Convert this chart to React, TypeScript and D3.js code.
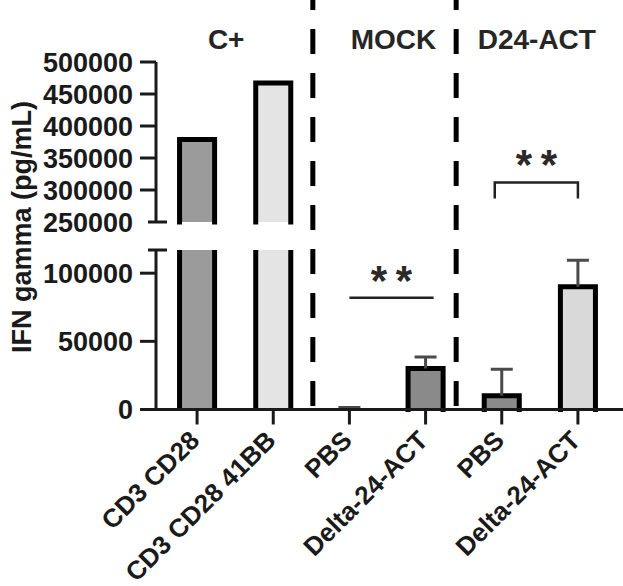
import React, { useEffect, useRef } from 'react';
import * as d3 from 'd3';

const categories = ['CD3 CD28', 'CD3 CD28 41BB', 'PBS', 'Delta-24-ACT', 'PBS', 'Delta-24-ACT'];
const means = [379000, 467000, 0, 30000, 10000, 90000];
const errors = [0, 0, 1500, 8500, 19500, 19500];
const groups = ['C+', 'MOCK', 'D24-ACT'];
const upperTicks = [250000, 300000, 350000, 400000, 450000, 500000];
const lowerTicks = [0, 50000, 100000];
const fills = ['#9b9b9b', '#e4e4e4', '#8a8a8a', '#8a8a8a', '#8a8a8a', '#d9d9d9'];

const FONT = '"Liberation Sans", Arial, sans-serif';

const App: React.FC = () => {
  const ref = useRef<SVGSVGElement | null>(null);

  useEffect(() => {
    const svg = d3.select(ref.current);
    svg.selectAll('*').remove();

    const axisX = 156;
    const x = d3.scaleBand<number>()
      .domain(d3.range(categories.length))
      .range([159, 616])
      .paddingInner(0.54)
      .paddingOuter(0.27);
    const bw = x.bandwidth();
    const cx = (i: number) => x(i)! + bw / 2;

    // broken y axis: lower and upper segments
    const yLow = d3.scaleLinear().domain([0, 117000]).range([409.5, 250]);
    const yUp = d3.scaleLinear().domain([250000, 500000]).range([222, 62]);
    const lowMax = yLow.domain()[1];
    const upMin = yUp.domain()[0];

    const ink = '#1a1a1a';

    // dashed group dividers
    const dividers = [x.step() / 2 + cx(1) + 1.5, x.step() / 2 + cx(3) - 7.5];
    dividers.forEach(dx => {
      svg.append('line')
        .attr('x1', dx).attr('x2', dx)
        .attr('y1', 0).attr('y2', yLow(0))
        .attr('stroke', '#000')
        .attr('stroke-width', 5)
        .attr('stroke-dasharray', '25,19')
        .attr('stroke-dashoffset', 15);
    });

    // bars
    const bars = svg.append('g');
    const segment = (i: number, yTop: number, yBot: number, top: boolean) => {
      const x0 = x(i)!;
      bars.append('rect')
        .attr('x', x0).attr('y', yTop)
        .attr('width', bw).attr('height', Math.max(0, yBot - yTop))
        .attr('fill', fills[i]);
      const p = top
        ? `M${x0},${yBot}V${yTop}H${x0 + bw}V${yBot}`
        : `M${x0},${yBot}V${yTop}M${x0 + bw},${yTop}V${yBot}`;
      bars.append('path')
        .attr('d', p)
        .attr('fill', 'none')
        .attr('stroke', '#000')
        .attr('stroke-width', 5)
        .attr('stroke-linecap', top ? 'square' : 'butt');
    };

    means.forEach((v, i) => {
      if (v > lowMax) {
        segment(i, yLow(lowMax), yLow(0), false);
        segment(i, yUp(v), yUp(upMin), true);
      } else if (v > 0) {
        segment(i, yLow(v), yLow(0), true);
      }
    });

    // error bars (upper only)
    means.forEach((v, i) => {
      const e = errors[i];
      if (!e) return;
      const y0 = yLow(v);
      const y1 = yLow(v + e);
      const c = cx(i);
      svg.append('path')
        .attr('d', `M${c},${y0}V${y1}M${c - 11},${y1}H${c + 11}`)
        .attr('fill', 'none')
        .attr('stroke', '#4a4a4a')
        .attr('stroke-width', 3);
    });

    // y axis segments
    const axis = svg.append('g').attr('stroke', ink).attr('stroke-width', 3).attr('fill', 'none');
    axis.append('path').attr('d', `M${axisX},${yUp(500000)}V${yUp(upMin)}M${axisX - 8},${yUp(upMin)}H${axisX + 11}`);
    axis.append('path').attr('d', `M${axisX},${yLow(lowMax)}V${yLow(0)}M${axisX - 8},${yLow(lowMax)}H${axisX + 11}`);

    const tickLabels = svg.append('g')
      .attr('font-family', FONT)
      .attr('font-weight', 'bold')
      .attr('font-size', 27)
      .attr('fill', ink)
      .attr('text-anchor', 'end');

    upperTicks.forEach(t => {
      if (t !== upMin) {
        axis.append('path').attr('d', `M${axisX - 16},${yUp(t)}H${axisX}`);
      }
      tickLabels.append('text')
        .attr('x', axisX - 23).attr('y', yUp(t)).attr('dy', '0.36em')
        .text(d3.format('d')(t));
    });
    lowerTicks.forEach(t => {
      axis.append('path').attr('d', `M${axisX - 16},${yLow(t)}H${axisX}`);
      tickLabels.append('text')
        .attr('x', axisX - 23).attr('y', yLow(t)).attr('dy', '0.36em')
        .text(d3.format('d')(t));
    });

    // x axis
    axis.append('path').attr('d', `M${axisX - 16},${yLow(0)}H623`);
    categories.forEach((c, i) => {
      axis.append('path').attr('d', `M${cx(i)},${yLow(0)}V${yLow(0) + 15}`);
      const px = cx(i) + 4;
      const py = 442;
      svg.append('text')
        .attr('transform', `translate(${px},${py}) rotate(-45)`)
        .attr('text-anchor', 'end')
        .attr('font-family', FONT)
        .attr('font-weight', 'bold')
        .attr('font-size', 26)
        .attr('fill', ink)
        .text(c);
    });

    // y title
    svg.append('text')
      .attr('transform', `translate(31,227) rotate(-90)`)
      .attr('text-anchor', 'middle')
      .attr('font-family', FONT)
      .attr('font-weight', 'bold')
      .attr('font-size', 27)
      .attr('fill', ink)
      .text('IFN gamma (pg/mL)');

    // group labels
    const groupShift = [-9, 6, -3];
    groups.forEach((g, k) => {
      const mid = (cx(2 * k) + cx(2 * k + 1)) / 2 + groupShift[k];
      svg.append('text')
        .attr('x', mid).attr('y', 49)
        .attr('text-anchor', 'middle')
        .attr('font-family', FONT)
        .attr('font-weight', 'bold')
        .attr('font-size', 28)
        .attr('fill', '#262626')
        .text(g);
    });

    // significance marks
    const sig = svg.append('g').attr('stroke', '#222').attr('stroke-width', 2.5).attr('fill', 'none');
    sig.append('path').attr('d', `M${cx(2)},${yLow(82000)}H${cx(3) + 8}`);
    sig.append('path').attr('d', `M${cx(4) - 7},${yLow(154800)}V${yLow(166500)}H${cx(5)}V${yLow(154800)}`);

    const stars = (xc: number, yc: number) => {
      [-12.5, 12.5].forEach(o => {
        svg.append('text')
          .attr('x', xc + o).attr('y', yc + 22)
          .attr('text-anchor', 'middle')
          .attr('font-family', FONT)
          .attr('font-weight', 'bold')
          .attr('font-size', 42)
          .attr('fill', '#2a2a2a')
          .text('*');
      });
    };
    stars((cx(2) + cx(3) + 8) / 2, 273);
    stars((cx(4) - 7 + cx(5)) / 2, 157);
  }, []);

  return (
    <svg ref={ref} width={623} height={586}
      style={{ position: 'absolute', left: 0, top: 0, background: '#fff' }} />
  );
};

export default App;
